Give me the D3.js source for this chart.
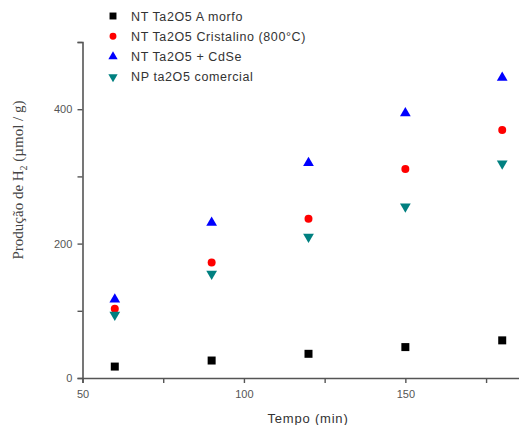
<!DOCTYPE html>
<html lang="en">
<head>
    <meta charset="UTF-8">
    <script src="https://cdn.jsdelivr.net/npm/d3@7"></script>
    <title>Producao H2</title>
    <style>
        body { margin: 0; background: #fff; }
        text { font-family: Arial, "Liberation Sans", sans-serif; }
        text.serif { font-family: "Liberation Serif", "DejaVu Serif", serif; }
    </style>
</head>
<body>
    <script>
        const tempo = [60, 90, 120, 150, 180]
        const amorfo = [17, 26, 36, 46, 56]
        const cristalino = [103, 172, 237, 311, 369]
        const cdse = [117, 231, 320, 394, 447]
        const comercial = [94, 155, 210, 255, 319]
        const seriesNames = ["NT Ta2O5 A morfo", "NT Ta2O5 Cristalino (800°C)", "NT Ta2O5 +  CdSe", "NP ta2O5 comercial"]
        const yTicks = [0, 200, 400]
        const xTicks = [50, 100, 150]

        const width = 519, height = 425
        const svg = d3.select("body").append("svg")
            .attr("width", width)
            .attr("height", height)

        const x = d3.scaleLinear().domain([50, 190]).range([82.5, 534.5])
        const y = d3.scaleLinear().domain([0, 500]).range([378, 42])

        const series = [
            {name: seriesNames[0], values: amorfo, color: "#000000", sym: d3.symbolSquare, size: 64, rot: 0},
            {name: seriesNames[1], values: cristalino, color: "#ff0000", sym: d3.symbolCircle, size: 50, rot: 0},
            {name: seriesNames[2], values: cdse, color: "#0000ff", sym: d3.symbolTriangle, size: 50, rot: 0},
            {name: seriesNames[3], values: comercial, color: "#008080", sym: d3.symbolTriangle, size: 50, rot: 180}
        ]

        // axes
        const xAxis = svg.append("g")
            .attr("transform", `translate(0,${y(0)})`)
            .call(d3.axisBottom(x).tickValues(d3.range(50, 200, 25)).tickSize(5)
                .tickFormat(d => xTicks.includes(d) ? d : ""))
        const yAxis = svg.append("g")
            .attr("transform", `translate(${x(50)},0)`)
            .call(d3.axisLeft(y).tickValues(d3.range(0, 501, 100)).tickSize(5)
                .tickFormat(d => yTicks.includes(d) ? d : ""))

        ;[xAxis, yAxis].forEach(a => {
            a.select(".domain").attr("stroke", "#555").attr("stroke-width", 1.6)
            a.selectAll(".tick line").attr("stroke", "#555").attr("stroke-width", 1.4)
            a.selectAll(".tick text").attr("fill", "#555").attr("font-size", 11)
        })
        xAxis.selectAll(".tick text").attr("dy", "1.1em")
        yAxis.selectAll(".tick text").attr("dx", "-0.2em")

        // points
        series.forEach(s => {
            svg.append("g").selectAll("path")
                .data(s.values)
                .join("path")
                .attr("d", d3.symbol().type(s.sym).size(s.size))
                .attr("transform", (d, i) => `translate(${x(tempo[i])},${y(d)}) rotate(${s.rot})`)
                .attr("fill", s.color)
        })

        // legend
        const legend = svg.append("g")
        series.forEach((s, i) => {
            const ly = 16 + i * 20.3
            legend.append("path")
                .attr("d", d3.symbol().type(s.sym).size(s.size * 0.75))
                .attr("transform", `translate(113,${ly}) rotate(${s.rot})`)
                .attr("fill", s.color)
            legend.append("text")
                .attr("x", 131)
                .attr("y", ly + 4.5)
                .attr("font-size", 12.5)
                .attr("letter-spacing", 0.6)
                .attr("fill", "#333")
                .text(s.name)
        })

        // axis titles
        svg.append("text")
            .attr("x", 308)
            .attr("y", 423)
            .attr("text-anchor", "middle")
            .attr("font-size", 13)
            .attr("letter-spacing", 0.8)
            .attr("fill", "#333")
            .text("Tempo (min)")

        const yl = svg.append("text")
            .attr("class", "serif")
            .attr("transform", "translate(23,180) rotate(-90)")
            .attr("text-anchor", "middle")
            .attr("font-size", 15)
            .attr("fill", "#444")
        yl.append("tspan").text("Produção de H")
        yl.append("tspan").attr("font-size", 10).attr("dy", 4).text("2")
        yl.append("tspan").attr("dy", -4).text(" (µmol / g)")
    </script>
</body>
</html>
